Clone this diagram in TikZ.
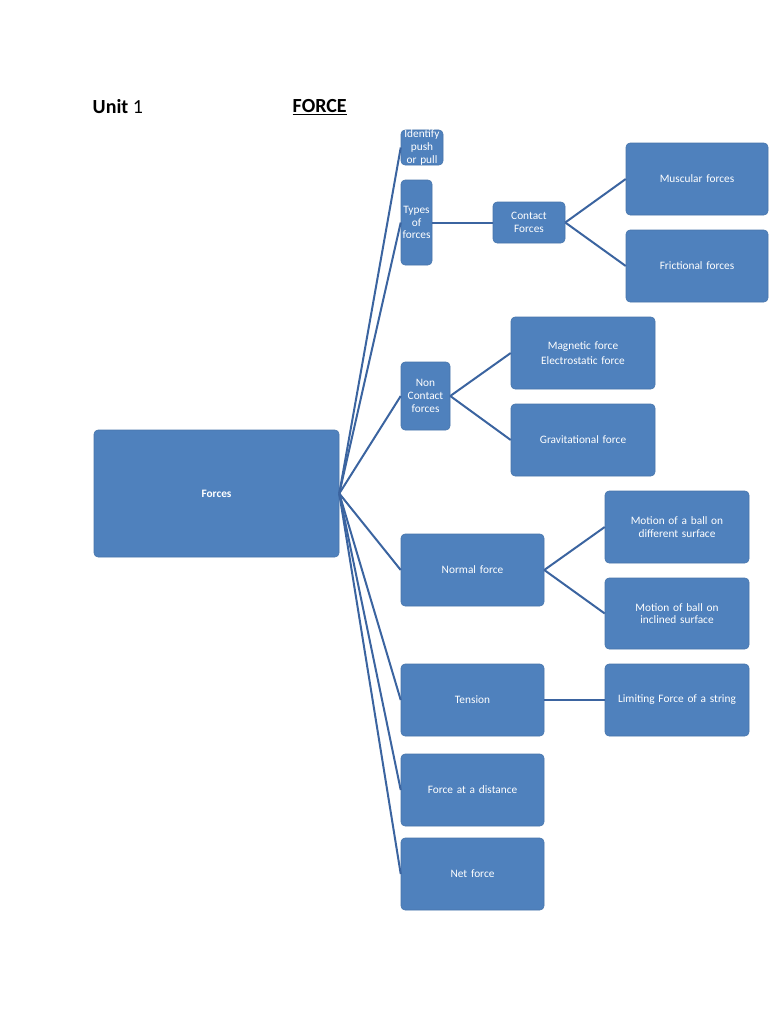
\documentclass[tikz,border=0pt]{standalone}
\usepackage{fontspec}
\setmainfont{Carlito}
\definecolor{boxblue}{HTML}{4F81BD}
\definecolor{lineblue}{HTML}{3B64A0}
\tikzset{
  box/.style={rectangle, rounded corners=3pt, fill=boxblue, draw=boxblue!90!black, text=white,
    font=\fontsize{8.5}{9.5}\selectfont, align=center, inner sep=0pt},
  link/.style={draw=lineblue, line width=1.5pt}
}
\newcommand{\bx}[7]{% name, x1, y1, x2, y2, width, text
  \node[box, minimum width={(#4-#2)*0.75pt}, minimum height={(#5-#3)*0.75pt}, text width=#6]
    (#1) at ({(#2+#4)/2},{(#3+#5)/2}) {#7};}
\begin{document}
\begin{tikzpicture}[x=0.75pt,y=-0.75pt]
  \useasboundingbox (0,0) rectangle (768,1024);
  \node[anchor=west, font=\fontsize{15}{18}\selectfont] (unit) at (88,107) {\textbf{Unit} 1};
  \node[anchor=west, font=\fontsize{15}{18}\selectfont\bfseries] (title) at (288,107) {\underline{FORCE}};
  \bx{forces}{94}{430}{339}{557}{150pt}{\textbf{Forces}}
  \bx{identify}{401}{130}{443}{165}{30pt}{Identify push or pull}
  \bx{types}{401}{180}{432}{265}{22pt}{Types of forces}
  \bx{contact}{493}{202}{565}{243}{50pt}{Contact Forces}
  \bx{muscular}{626}{143}{768}{215}{100pt}{Muscular forces}
  \bx{friction}{626}{230}{768}{302}{100pt}{Frictional forces}
  \bx{noncontact}{401}{362}{450}{430}{34pt}{Non Contact forces}
  \bx{magnetic}{511}{317}{655}{389}{100pt}{Magnetic force\\[2pt] Electrostatic force}
  \bx{gravity}{511}{404}{655}{476}{100pt}{Gravitational force}
  \bx{normal}{401}{534}{544}{606}{100pt}{Normal force}
  \bx{balldiff}{605}{491}{749}{563}{100pt}{Motion of a ball on different surface}
  \bx{ballincl}{605}{578}{749}{649}{104pt}{Motion of ball on inclined surface}
  \bx{tension}{401}{664}{544}{736}{100pt}{Tension}
  \bx{limiting}{605}{664}{749}{736}{104pt}{Limiting Force of a string}
  \bx{distance}{401}{754}{544}{826}{100pt}{Force at a distance}
  \bx{net}{401}{838}{544}{910}{100pt}{Net force}
  \foreach \n in {identify,types,noncontact,normal,tension,distance,net}
    \draw[link] (forces.east) -- (\n.west);
  \draw[link] (types.east) -- (contact.west);
  \foreach \n in {muscular,friction}
    \draw[link] (contact.east) -- (\n.west);
  \foreach \n in {magnetic,gravity}
    \draw[link] (noncontact.east) -- (\n.west);
  \foreach \n in {balldiff,ballincl}
    \draw[link] (normal.east) -- (\n.west);
  \draw[link] (tension.east) -- (limiting.west);
\end{tikzpicture}
\end{document}
